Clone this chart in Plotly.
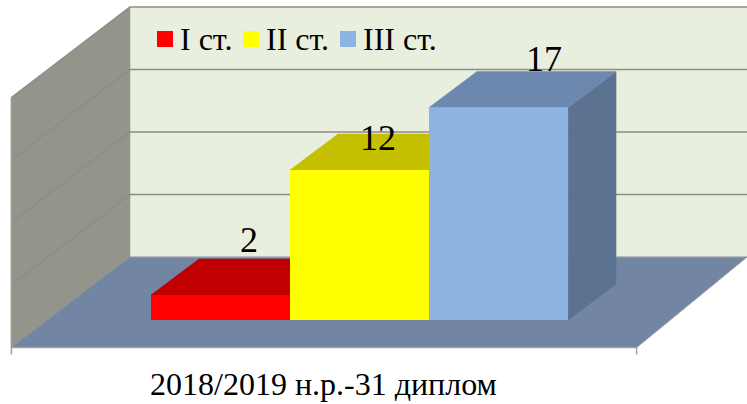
import plotly.graph_objects as go

# ---- data ----
SERIES = ["I ст.", "II ст.", "III ст."]
VALUES = [2, 12, 17]
CATEGORY = "2018/2019 н.р.-31 диплом"
GRID_VALUES = [0, 5, 10, 15, 20]

# ---- styles ----
FRONT = ["#FF0000", "#FFFF00", "#8DB3E2"]
TOP = ["#C00000", "#C4C000", "#6C88AE"]
SIDE = ["#A00000", "#A3A000", "#5B7391"]
FONT = "Liberation Serif"

# ---- geometry (axis units: one bar width on x, one count on y) ----
W, H = 747, 404
X_RANGE = [-1.586, 3.787]
Y_RANGE = [-6.72, 25.6]
BAR_DX, BAR_DY = 0.345, 2.88
LEFT_FRONT, LEFT_BACK = -1.504, -0.651
RIGHT_FRONT, RIGHT_BACK = 2.993, 3.787
FLOOR_FRONT, FLOOR_BACK = -2.2, 5.04
LABEL_XSHIFT = [28, 18, 45]
LABEL_YSHIFT = [33, 10, 27]


def px_x(p):
    return X_RANGE[0] + p / W * (X_RANGE[1] - X_RANGE[0])


def px_y(p):
    return Y_RANGE[1] - p / H * (Y_RANGE[1] - Y_RANGE[0])


def poly(xs, ys, color):
    return go.Scatter(x=xs + xs[:1], y=ys + ys[:1], mode="lines", fill="toself",
                      fillcolor=color, line=dict(color=color, width=0.5),
                      hoverinfo="skip", showlegend=False)


def line(xs, ys, color, width):
    return go.Scatter(x=xs, y=ys, mode="lines", line=dict(color=color, width=width),
                      hoverinfo="skip", showlegend=False)


fig = go.Figure()
top_grid = FLOOR_BACK + GRID_VALUES[-1]

# walls and floor
fig.add_trace(poly([LEFT_BACK, RIGHT_BACK, RIGHT_BACK, LEFT_BACK],
                   [FLOOR_BACK, FLOOR_BACK, top_grid, top_grid], "#E9EFDF"))
fig.add_trace(poly([LEFT_FRONT, LEFT_BACK, LEFT_BACK, LEFT_FRONT],
                   [FLOOR_FRONT, FLOOR_BACK, top_grid, GRID_VALUES[-1] + FLOOR_FRONT], "#93958A"))
fig.add_trace(poly([LEFT_FRONT, LEFT_BACK, RIGHT_BACK, RIGHT_FRONT],
                   [FLOOR_FRONT, FLOOR_BACK, FLOOR_BACK, FLOOR_FRONT], "#7285A3"))

# gridlines across both walls
for g in GRID_VALUES[1:]:
    fig.add_trace(line([LEFT_FRONT, LEFT_BACK, RIGHT_BACK],
                       [FLOOR_FRONT + g, FLOOR_BACK + g, FLOOR_BACK + g], "#8C8C8C", 1.5))
fig.add_trace(line([LEFT_FRONT, LEFT_FRONT], [FLOOR_FRONT, FLOOR_FRONT + GRID_VALUES[-1]], "#9A9A9A", 1.5))
fig.add_trace(line([LEFT_BACK, RIGHT_BACK], [FLOOR_BACK, FLOOR_BACK], "#A6A6A6", 1))

# floor front edge and its ticks
tick = 0.55
fig.add_trace(line([LEFT_FRONT, LEFT_FRONT, RIGHT_FRONT, RIGHT_FRONT],
                   [FLOOR_FRONT - tick, FLOOR_FRONT, FLOOR_FRONT, FLOOR_FRONT - tick], "#A0A0A0", 1.5))
fig.add_trace(line([RIGHT_FRONT, RIGHT_BACK], [FLOOR_FRONT, FLOOR_BACK], "#A0A0A0", 1))

# tops and sides of the bars
for i, v in enumerate(VALUES):
    l, r = i - 0.5, i + 0.5
    fig.add_trace(poly([r, r + BAR_DX, r + BAR_DX, r], [0, BAR_DY, v + BAR_DY, v], SIDE[i]))
    fig.add_trace(poly([l, r, r + BAR_DX, l + BAR_DX], [v, v, v + BAR_DY, v + BAR_DY], TOP[i]))

# front faces on an overlaying axis pair so they cover the tops behind them
for i, (name, v) in enumerate(zip(SERIES, VALUES)):
    fig.add_trace(go.Bar(x=[i], y=[v], width=1, name=name, marker=dict(color=FRONT[i], line_width=0),
                         xaxis="x2", yaxis="y2", showlegend=False))

# value labels
for i, v in enumerate(VALUES):
    fig.add_annotation(x=i, y=v, xref="x2", yref="y2", text=str(v), showarrow=False,
                       xanchor="center", yanchor="bottom", xshift=LABEL_XSHIFT[i], yshift=LABEL_YSHIFT[i],
                       font=dict(family=FONT, size=36, color="#000000"))

# legend keys and texts
LEGEND_KEY_PX = [165, 251, 348]
LEGEND_TEXT_PX = [180, 266, 363]
for i, name in enumerate(SERIES):
    fig.add_trace(go.Scatter(x=[px_x(LEGEND_KEY_PX[i])], y=[px_y(39)], mode="markers", xaxis="x2", yaxis="y2",
                             marker=dict(symbol="square", size=16, color=FRONT[i], line_width=0),
                             hoverinfo="skip", showlegend=False))
    fig.add_annotation(x=px_x(LEGEND_TEXT_PX[i]), y=px_y(39), xref="x2", yref="y2", text=name, showarrow=False,
                       xanchor="left", yanchor="middle", xshift=-2,
                       font=dict(family=FONT, size=32, color="#000000"))

# category label
fig.add_annotation(x=px_x(323.5), y=px_y(384), xref="x2", yref="y2", text=CATEGORY, showarrow=False,
                   xanchor="center", yanchor="middle", font=dict(family=FONT, size=32, color="#000000"))

axis = dict(visible=False, fixedrange=True)
fig.update_layout(
    width=W, height=H, margin=dict(l=0, r=0, t=0, b=0),
    paper_bgcolor="#FFFFFF", plot_bgcolor="#FFFFFF", showlegend=False,
    xaxis=dict(range=X_RANGE, **axis), yaxis=dict(range=Y_RANGE, **axis),
    xaxis2=dict(range=X_RANGE, overlaying="x", **axis),
    yaxis2=dict(range=Y_RANGE, overlaying="y", **axis),
)
fig.write_html("out.html", config={"displayModeBar": False},
               post_script="document.body.style.margin='0';")
